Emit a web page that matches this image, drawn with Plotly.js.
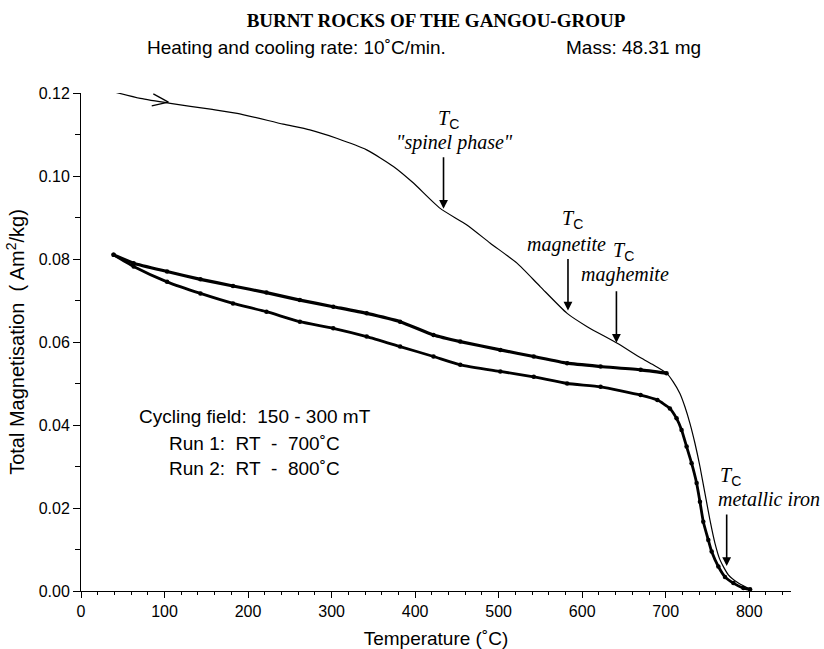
<!DOCTYPE html>
<html>
<head>
<meta charset="utf-8">
<script src="https://cdn.plot.ly/plotly-3.0.1.min.js"></script>
<style>html,body{margin:0;padding:0;background:#fff;}</style>
</head>
<body>
<div id="chart" style="width:824px;height:649px;"></div>
<script>
// Heating curve (thin line)
const heatT = [31,71,107,155,187,242,274,306,342,374,398,430,462,490,522,550,582,606,642,670,685,701,709,717,723,729,735,741,747,753,759,765,775,787,801];
const heatM = [0.1207,0.1187,0.1175,0.1161,0.1151,0.1125,0.1111,0.1091,0.1063,0.1023,0.0983,0.0922,0.0882,0.0838,0.0790,0.0733,0.0669,0.0637,0.0597,0.0562,0.0545,0.0525,0.0504,0.0476,0.0444,0.0404,0.0356,0.0300,0.0235,0.0171,0.0115,0.0075,0.0039,0.0019,0.0004];
// Dotted curve, upper branch (RT - 700 C)
const upT = [39,63,103,143,182,222,262,302,342,382,422,454,502,542,582,622,670,701];
const upM = [0.0810,0.0790,0.0770,0.0751,0.0735,0.0719,0.0701,0.0685,0.0669,0.0649,0.0617,0.0601,0.0581,0.0565,0.0549,0.0541,0.0533,0.0525];
// Dotted curve, lower branch (RT - 800 C)
const loT = [39,63,103,143,182,222,262,302,342,382,422,454,502,542,582,622,670,690,705,713,719,725,731,737,741,745,751,755,763,771,781,793,801];
const loM = [0.0810,0.0782,0.0745,0.0717,0.0693,0.0673,0.0649,0.0633,0.0613,0.0589,0.0565,0.0545,0.0529,0.0516,0.0500,0.0492,0.0472,0.0460,0.0440,0.0416,0.0388,0.0348,0.0308,0.0260,0.0215,0.0167,0.0123,0.0095,0.0059,0.0034,0.0019,0.0007,0.0004];

// Curie temperature markers
const tcT = [434, 583, 641, 773];
const tcTipM = [0.0921, 0.0676, 0.0598, 0.0060];
const tcLabels = ['"spinel phase"', 'magnetite', 'maghemite', 'metallic iron'];
const tcLabelT = [447, 581, 651, 824];
const tcLabelM = [0.1080, 0.0836, 0.0762, 0.0222];
const tcSymT = [440, 588, 650, 777];
const tcSymM = [0.1135, 0.0894, 0.0818, 0.0275];

const infoLines = ['Cycling field:\u00a0\u00a0150 - 300 mT', 'Run 1:\u00a0\u00a0RT\u00a0\u00a0-\u00a0\u00a0700˚C', 'Run 2:\u00a0\u00a0RT\u00a0\u00a0-\u00a0\u00a0800˚C'];
const infoT = 208;
const infoM = [0.0420, 0.0356, 0.0296];

// direction chevron on heating curve
const chevTip = [104.6, 0.1178];
const chevArmA = [86.6, 0.1198];
const chevArmB = [84.7, 0.1169];

const sans = 'Liberation Sans, Arial, sans-serif';
const serif = 'Liberation Serif, Times New Roman, serif';

const traces = [
  {x: heatT, y: heatM, mode: 'lines', line: {color: '#000', width: 1.2, shape: 'spline', smoothing: 0.6}, cliponaxis: false, hoverinfo: 'skip'},
  {x: upT, y: upM, mode: 'lines+markers', line: {color: '#000', width: 3.2, shape: 'spline', smoothing: 0.5}, marker: {color: '#000', size: 4.5}, hoverinfo: 'skip'},
  {x: loT, y: loM, mode: 'lines+markers', line: {color: '#000', width: 2.8, shape: 'spline', smoothing: 0.5}, marker: {color: '#000', size: 4.5}, hoverinfo: 'skip'}
];

const annotations = [];
for (let i = 0; i < tcT.length; i++) {
  annotations.push({x: tcT[i], y: tcTipM[i], xref: 'x', yref: 'y', text: '',
    showarrow: true, ax: 0, ay: -53, arrowhead: 2, arrowsize: 1.1, arrowwidth: 1.6, arrowcolor: '#000'});
  annotations.push({x: tcLabelT[i], y: tcLabelM[i], xref: 'x', yref: 'y', text: '<i>' + tcLabels[i] + '</i>',
    showarrow: false, font: {family: serif, size: 20, color: '#000'}, xanchor: 'center', yanchor: 'middle'});
  annotations.push({x: tcSymT[i], y: tcSymM[i], xref: 'x', yref: 'y',
    text: '<i>T</i><sub><span style="font-family:Liberation Sans">C</span></sub>',
    showarrow: false, font: {family: serif, size: 20, color: '#000'}, xanchor: 'center', yanchor: 'middle'});
}
for (let i = 0; i < infoLines.length; i++) {
  annotations.push({x: infoT, y: infoM[i], xref: 'x', yref: 'y', text: infoLines[i], showarrow: false,
    font: {family: sans, size: 19, color: '#000'}, xanchor: 'center', yanchor: 'middle'});
}
annotations.push({x: 0.09, y: 1.092, xref: 'paper', yref: 'paper', text: 'Heating and cooling rate: 10˚C/min.',
  showarrow: false, xanchor: 'left', yanchor: 'middle', font: {family: sans, size: 19, color: '#000'}});
annotations.push({x: 0.68, y: 1.092, xref: 'paper', yref: 'paper', text: 'Mass: 48.31 mg',
  showarrow: false, xanchor: 'left', yanchor: 'middle', font: {family: sans, size: 19, color: '#000'}});

const shapes = [
  {type: 'line', xref: 'x', yref: 'y', x0: chevArmA[0], y0: chevArmA[1], x1: chevTip[0], y1: chevTip[1], line: {color: '#000', width: 1.3}},
  {type: 'line', xref: 'x', yref: 'y', x0: chevArmB[0], y0: chevArmB[1], x1: chevTip[0], y1: chevTip[1], line: {color: '#000', width: 1.3}}
];

const layout = {
  width: 824, height: 649,
  margin: {l: 81, r: 33, t: 93, b: 58},
  paper_bgcolor: '#fff', plot_bgcolor: '#fff',
  showlegend: false,
  title: {text: '<b>BURNT ROCKS OF THE GANGOU-GROUP</b>', x: 0.5, xref: 'paper', y: 0.969, yanchor: 'middle',
    font: {family: serif, size: 19, color: '#000'}},
  xaxis: {
    range: [0, 850], tick0: 0, dtick: 100, ticks: 'outside', ticklen: 6, tickwidth: 1, tickcolor: '#000',
    minor: {dtick: 20, ticks: 'outside', ticklen: 3, tickcolor: '#000', showgrid: false},
    showline: true, linecolor: '#000', linewidth: 1, showgrid: false, zeroline: false,
    tickfont: {family: sans, size: 16, color: '#000'},
    title: {text: 'Temperature (˚C)', font: {family: sans, size: 19, color: '#000'}, standoff: 14}
  },
  yaxis: {
    range: [0, 0.12], tick0: 0, dtick: 0.02, tickformat: '.2f', ticks: 'outside', ticklen: 7, tickwidth: 1, tickcolor: '#000',
    minor: {dtick: 0.01, ticks: 'outside', ticklen: 5, tickcolor: '#000', showgrid: false},
    showline: true, linecolor: '#000', linewidth: 1, showgrid: false, zeroline: false,
    tickfont: {family: sans, size: 16, color: '#000'},
    title: {text: 'Total Magnetisation\u00a0\u00a0( Am<sup>2</sup>/kg)', font: {family: sans, size: 20, color: '#000'}, standoff: 8}
  },
  annotations: annotations,
  shapes: shapes
};

Plotly.newPlot('chart', traces, layout, {displayModeBar: false, staticPlot: true});
</script>
</body>
</html>
